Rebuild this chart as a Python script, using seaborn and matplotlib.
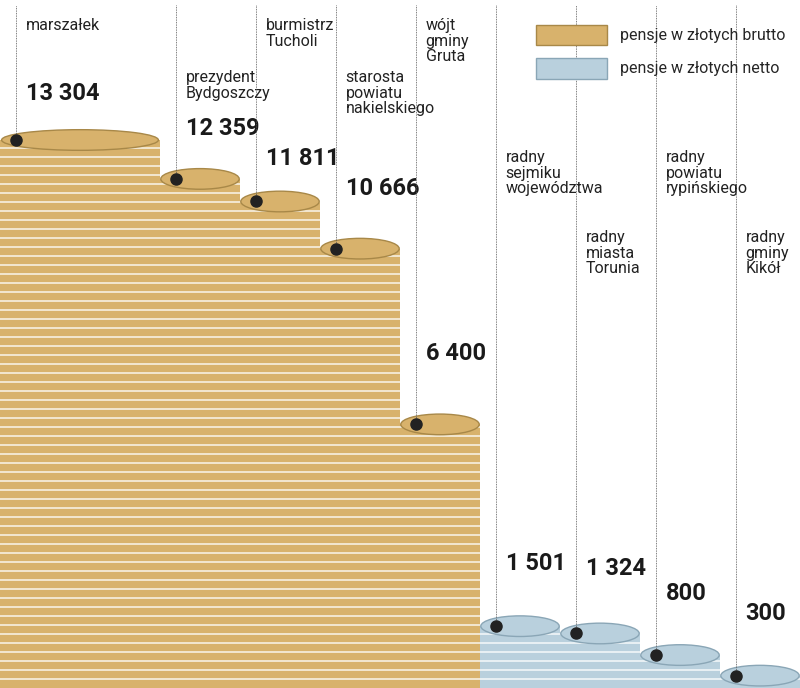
import matplotlib.pyplot as plt
import seaborn as sns
import pandas as pd
from matplotlib.patches import Ellipse, Patch

names = ["marszałek", "prezydent\nBydgoszczy", "burmistrz\nTucholi", "starosta\npowiatu\nnakielskiego",
         "wójt\ngminy\nGruta", "radny\nsejmiku\nwojewództwa", "radny\nmiasta\nTorunia",
         "radny\npowiatu\nrypińskiego", "radny\ngminy\nKikół"]
values = [13304, 12359, 11811, 10666, 6400, 1501, 1324, 800, 300]
labels = ["13 304", "12 359", "11 811", "10 666", "6 400", "1 501", "1 324", "800", "300"]
kind = ["brutto"] * 5 + ["netto"] * 4
# pixel y of name text top and number baseline (layout)
name_y = [18, 70, 18, 70, 18, 150, 230, 150, 230]
num_y = [100, 135, 165, 195, 360, 570, 575, 600, 620]

gold, blue = "#d8b26c", "#b9d0dd"
colors = [gold if k == "brutto" else blue for k in kind]

sns.set_theme(style="white")
plt.rcParams['font.family'] = ['Roboto', 'DejaVu Sans']
fig = plt.figure(figsize=(8, 6.88), dpi=100)
ax = fig.add_axes([0, 0, 1, 1])
df = pd.DataFrame({"name": names, "value": values})
sns.barplot(data=df, x="name", y="value", palette=colors, width=1.0, ax=ax,
            hue="name", legend=False, saturation=1)
ymax = 13304 / (548 / 688)
ax.set_xlim(-1.5, 8.5)
ax.set_ylim(0, ymax)
ax.axis("off")

patches = sorted(ax.patches, key=lambda p: p.get_x())
p0 = patches[0]
p0.set_x(-1.5); p0.set_width(2.0)
step = ymax * 9 / 688
for i, p in enumerate(patches):
    x0, w, h = p.get_x(), p.get_width(), p.get_height()
    p.set_edgecolor("none")
    y = step
    while y < h:
        l, = ax.plot([x0, x0 + w], [y, y], color="white", lw=1.2, alpha=0.8)
        l.set_clip_path(p)
        y += step
    edge = "#a88848" if kind[i] == "brutto" else "#8aa6b6"
    ax.add_patch(Ellipse((x0 + w / 2, h), w * 0.98, ymax * 0.03, facecolor=colors[i],
                         edgecolor=edge, lw=1, zorder=3))
    dx = x0 + 0.2 if i else x0 + 0.2
    ax.plot(dx, h, "o", color="#222222", ms=8, zorder=5)
    line_top = ymax * (1 - 5 / 688)
    ax.plot([dx, dx], [h, line_top], color="#555555", lw=0.6, ls=(0, (1, 1)), zorder=4)
    tx = dx + 0.12
    ax.text(tx, ymax * (1 - name_y[i] / 688), names[i], va="top", ha="left",
            fontsize=11.5, color="#222222", linespacing=1.05)
    ax.text(tx, ymax * (1 - num_y[i] / 688), labels[i], va="baseline", ha="left",
            fontsize=17, fontweight="bold", color="#1a1a1a")

handles = [Patch(facecolor=gold, edgecolor="#a88848", label="pensje w złotych brutto"),
           Patch(facecolor=blue, edgecolor="#8aa6b6", label="pensje w złotych netto")]
fig.legend(handles=handles, loc="upper right", bbox_to_anchor=(1.0, 0.985), frameon=False,
           fontsize=11.5, handlelength=4.5, handleheight=1.6, labelspacing=0.8)
fig.savefig("out.png", dpi=100)
